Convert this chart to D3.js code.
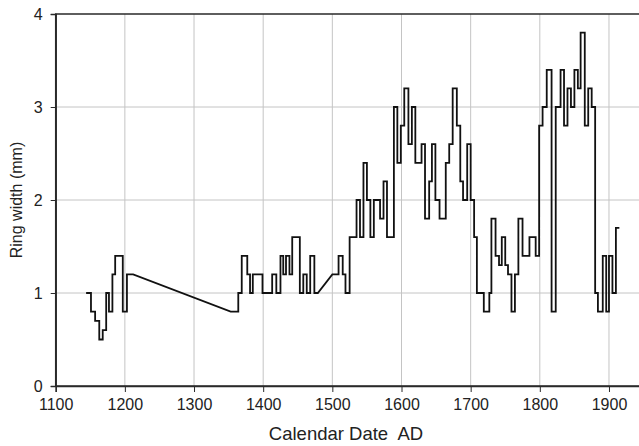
<!DOCTYPE html>
<meta charset="utf-8">
<script src="https://d3js.org/d3.v7.min.js"></script>
<style>
  body { margin: 0; background: #fff; }
  text { font-family: "Liberation Sans", Arial, sans-serif; fill: #222; }
</style>
<div id="chart"></div>
<script>

// ring width record, value holds from each year until the next one
var years = [1144, 1151, 1157, 1163, 1168, 1173, 1177, 1182, 1186, 1197, 1203, 1212,
  1353, 1364, 1369, 1377, 1381, 1385, 1399, 1413, 1419, 1425, 1429, 1433, 1438, 1442,
  1453, 1458, 1463, 1468, 1474, 1479,
  1500, 1509, 1515, 1519, 1525, 1535, 1540, 1545, 1550, 1555, 1560, 1569, 1574, 1579,
  1589, 1594, 1599, 1604, 1610, 1615, 1620, 1629, 1634, 1640, 1644, 1649, 1655, 1664,
  1669, 1674, 1680, 1685, 1689, 1695, 1700, 1705, 1709, 1719, 1727, 1730, 1736, 1741,
  1745, 1750, 1754, 1759, 1764, 1769, 1775, 1785, 1794, 1799, 1804, 1810, 1817, 1823,
  1830, 1835, 1840, 1845, 1850, 1855, 1859, 1865, 1870, 1875, 1880, 1884, 1891, 1896,
  1900, 1905, 1910];
var widths = [1.0, 0.8, 0.7, 0.5, 0.6, 1.0, 0.8, 1.2, 1.4, 0.8, 1.2, 1.2,
  0.8, 1.0, 1.4, 1.2, 1.0, 1.2, 1.0, 1.2, 1.0, 1.4, 1.2, 1.4, 1.2, 1.6,
  1.0, 1.2, 1.0, 1.4, 1.0, 1.0,
  1.2, 1.4, 1.2, 1.0, 1.6, 2.0, 1.6, 2.4, 2.0, 1.6, 2.0, 1.8, 2.2, 1.6,
  3.0, 2.4, 2.8, 3.2, 2.6, 3.0, 2.4, 2.6, 1.8, 2.2, 2.6, 2.0, 1.8, 2.4,
  2.6, 3.2, 2.8, 2.2, 2.0, 2.6, 2.0, 1.6, 1.0, 0.8, 1.0, 1.8, 1.4, 1.3,
  1.6, 1.3, 1.2, 0.8, 1.2, 1.8, 1.4, 1.6, 1.4, 2.8, 3.0, 3.4, 0.8, 3.0,
  3.4, 2.8, 3.2, 3.0, 3.4, 3.2, 3.8, 2.8, 3.2, 3.0, 1.0, 0.8, 1.4, 0.8,
  1.4, 1.0, 1.7];
var lastYear = 1915;
// missing stretches, bridged with a straight line
var gapStarts = [1212, 1479];

var xTicks = [1100, 1200, 1300, 1400, 1500, 1600, 1700, 1800, 1900];
var yTicks = [0, 1, 2, 3, 4];

var width = 639, height = 446;

var svg = d3.select("#chart")
  .append("svg")
    .attr("width", width)
    .attr("height", height);

var x = d3.scaleLinear()
  .domain([1100, 2000])
  .range([55.7, 55.7 + 9 * 69.16]);

var y = d3.scaleLinear()
  .domain([0, 4])
  .range([386, 14]);

// gridlines
svg.append("g")
  .selectAll("line.vg")
  .data(xTicks.slice(1))
  .enter().append("line")
    .attr("x1", function(d) { return x(d); })
    .attr("x2", function(d) { return x(d); })
    .attr("y1", y(4))
    .attr("y2", y(0))
    .attr("stroke", "#c4c4c4")
    .attr("stroke-width", 1);

svg.append("g")
  .selectAll("line.hg")
  .data(yTicks.slice(1, -1))
  .enter().append("line")
    .attr("x1", x(1100))
    .attr("x2", x(2000))
    .attr("y1", function(d) { return y(d); })
    .attr("y2", function(d) { return y(d); })
    .attr("stroke", "#c4c4c4")
    .attr("stroke-width", 1);

// plot frame
svg.append("rect")
  .attr("x", x(1100))
  .attr("y", y(4))
  .attr("width", x(2000) - x(1100))
  .attr("height", y(0) - y(4))
  .attr("fill", "none")
  .attr("stroke", "#2a2a2a")
  .attr("stroke-width", 1.5);

// axes
var xAxis = svg.append("g")
  .attr("transform", "translate(0," + y(0) + ")")
  .call(d3.axisBottom(x).tickValues(xTicks).tickSize(6).tickPadding(7).tickFormat(d3.format("d")));

var yAxis = svg.append("g")
  .attr("transform", "translate(" + x(1100) + ",0)")
  .call(d3.axisLeft(y).tickValues(yTicks).tickSize(5).tickPadding(8).tickFormat(d3.format("d")));

[xAxis, yAxis].forEach(function(a) {
  a.select(".domain").attr("stroke", "#2a2a2a").attr("stroke-width", 1.5);
  a.selectAll(".tick line").attr("stroke", "#2a2a2a");
  a.selectAll("text")
    .attr("fill", "#222")
    .style("font-size", "16px")
    .style("font-family", "'Liberation Sans', Arial, sans-serif");
});

// step line with straight bridges over the gaps
var p = d3.path();
p.moveTo(x(years[0]), y(widths[0]));
for (var i = 0; i < years.length; i++) {
  var nx = i < years.length - 1 ? years[i + 1] : lastYear;
  if (gapStarts.indexOf(years[i]) >= 0) {
    p.lineTo(x(nx), y(widths[i + 1]));
  } else {
    p.lineTo(x(nx), y(widths[i]));
    if (i < years.length - 1) p.lineTo(x(nx), y(widths[i + 1]));
  }
}

svg.append("path")
  .attr("d", p.toString())
  .attr("fill", "none")
  .attr("stroke", "#111")
  .attr("stroke-width", 1.8)
  .attr("stroke-linejoin", "miter");

// axis titles
svg.append("text")
  .attr("x", 346)
  .attr("y", 440)
  .attr("text-anchor", "middle")
  .style("font-size", "18.5px")
  .style("white-space", "pre")
  .text("Calendar Date  AD");

svg.append("text")
  .attr("transform", "translate(22,200) rotate(-90)")
  .attr("text-anchor", "middle")
  .style("font-size", "16px")
  .text("Ring width (mm)");

</script>
